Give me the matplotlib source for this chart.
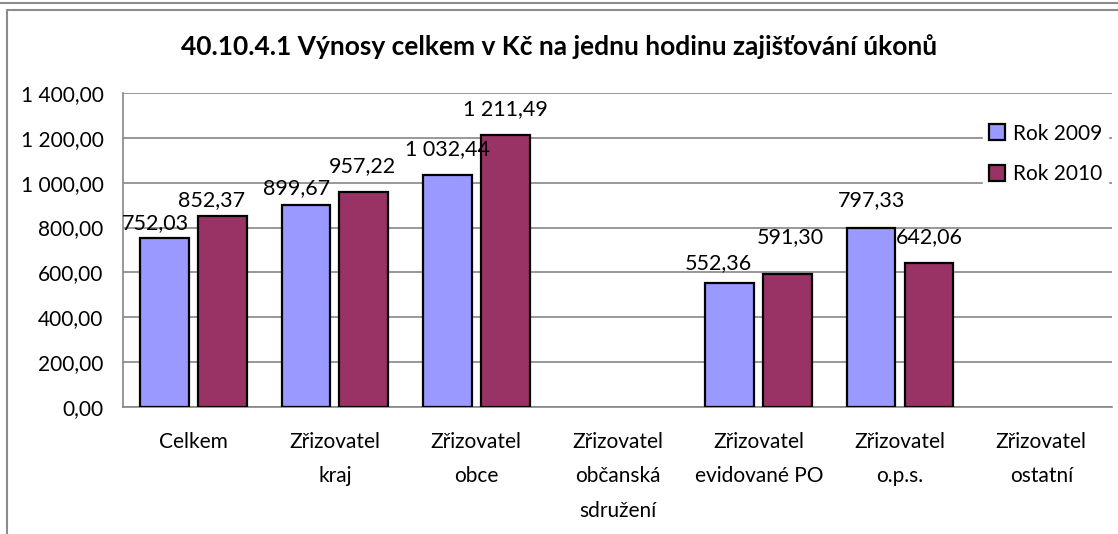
import numpy as np
import matplotlib
matplotlib.use("Agg")
import matplotlib.pyplot as plt
from matplotlib.lines import Line2D
from matplotlib.ticker import FuncFormatter

plt.rcParams['font.family'] = ['Lato', 'DejaVu Sans']

categories = ["Celkem", "Zřizovatel\nkraj", "Zřizovatel\nobce", "Zřizovatel\nobčanská\nsdružení",
              "Zřizovatel\nevidované PO", "Zřizovatel\no.p.s.", "Zřizovatel\nostatní"]
rok_2009 = [752.03, 899.67, 1032.44, np.nan, 552.36, 797.33, np.nan]
rok_2010 = [852.37, 957.22, 1211.49, np.nan, 591.30, 642.06, np.nan]
series_names = ["Rok 2009", "Rok 2010"]

# hand-placed label offsets in pixels (dx, dy up) as in the original
lab_off_2009 = [(-9, 15), (-9, 17), (0, 26), None, (-11, 20), (0, 28), None]
lab_off_2010 = [(-11, 16), (-1, 26), (0, 26), None, (3, 37), (0, 26), None]


def cz(v):
    s = f"{v:,.2f}"
    return s.replace(",", " ").replace(".", ",")


fig = plt.figure(figsize=(11.18, 5.34), dpi=100)
ax = fig.add_axes([0.110, 0.2378, 0.8846, 0.588])

x = np.arange(len(categories))
w = 0.345
off = 0.205
b1 = ax.bar(x - off, rok_2009, w, color="#9999FF", edgecolor="black", linewidth=1.6, label=series_names[0], zorder=3)
b2 = ax.bar(x + off, rok_2010, w, color="#993366", edgecolor="black", linewidth=1.6, label=series_names[1], zorder=3)

for bars, vals, offs in ((b1, rok_2009, lab_off_2009), (b2, rok_2010, lab_off_2010)):
    for r, v, o in zip(bars, vals, offs):
        if np.isnan(v):
            continue
        ax.annotate(cz(v), (r.get_x() + r.get_width() / 2, v), xytext=(o[0] * 0.72, o[1] * 0.72),
                    textcoords="offset points", ha="center", va="center", fontsize=15.5, zorder=5)

ax.set_xlim(-0.5, len(categories) - 0.5)
ax.set_ylim(0, 1400)
ax.set_yticks(np.arange(0, 1401, 200))
ax.yaxis.set_major_formatter(FuncFormatter(lambda v, p: cz(v)))
ax.set_xticks(x)
ax.set_xticklabels(categories, fontsize=15, linespacing=1.9, va="top")
ax.tick_params(axis="both", length=0, labelsize=15)
ax.tick_params(axis="x", pad=18)
ax.tick_params(axis="y", pad=14)
ax.grid(axis="y", color="#868686", linewidth=1.2, zorder=0)
for s in ["top", "right"]:
    ax.spines[s].set_visible(False)
for s in ["left", "bottom"]:
    ax.spines[s].set_color("#868686")
    ax.spines[s].set_linewidth(1.2)

leg = ax.legend(loc="center left", bbox_to_anchor=(0.8696, 0.806), frameon=True, fontsize=15,
                handlelength=0.77, handleheight=0.77, handletextpad=0.35, labelspacing=1.0,
                borderpad=0.3, borderaxespad=0, fancybox=False)
leg.get_frame().set_edgecolor("white")
leg.get_frame().set_facecolor("white")
leg.get_frame().set_alpha(1)
leg.set_zorder(6)

fig.text(0.5, 0.912, "40.10.4.1 Výnosy celkem v Kč na jednu hodinu zajišťování úkonů",
         ha="center", va="center", fontsize=19, fontweight="bold")

# outer frames
fig.add_artist(Line2D([0, 1], [1 - 3 / 534, 1 - 3 / 534], color="#8c8c8c", linewidth=1.5, transform=fig.transFigure))
fig.add_artist(Line2D([7 / 1118, 7 / 1118, 1], [0, 1 - 10 / 534, 1 - 10 / 534], color="#8c8c8c", linewidth=1.5, transform=fig.transFigure))

fig.savefig("out.png", dpi=100)
